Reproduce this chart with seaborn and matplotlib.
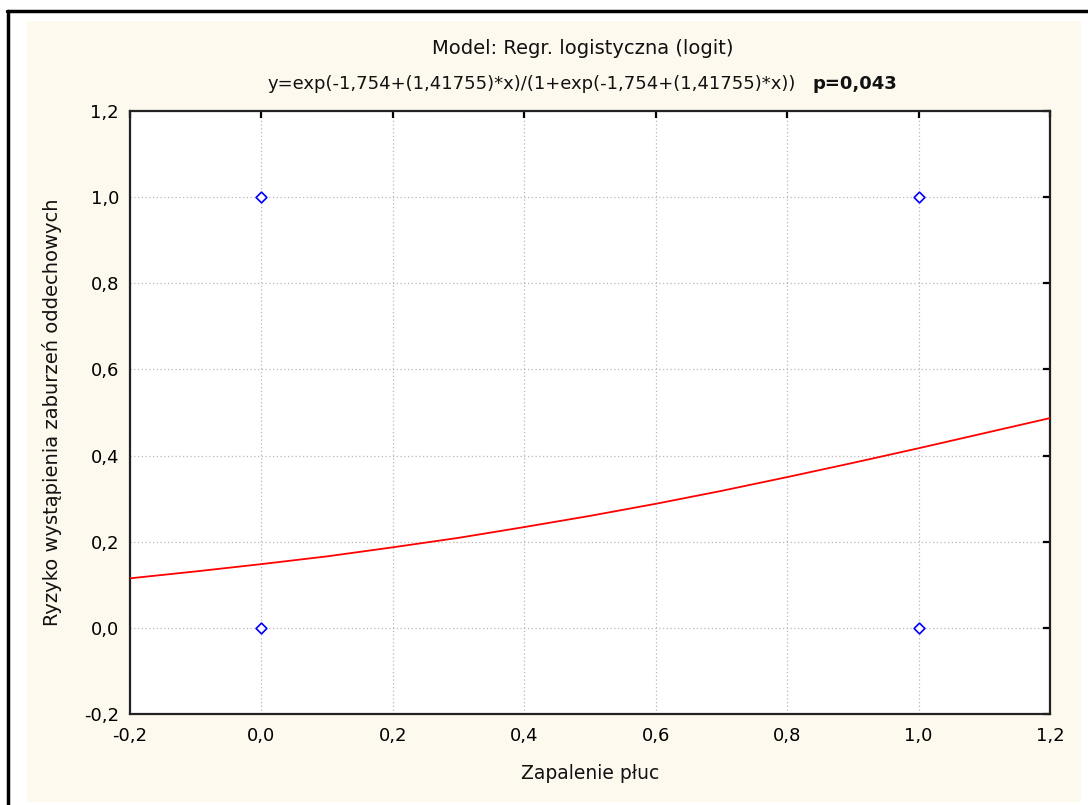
import matplotlib.pyplot as plt
import matplotlib.patches as mpatches
import matplotlib.lines as mlines
import seaborn as sns
import pandas as pd

# observed points (Zapalenie płuc vs. occurrence)
obs_x = [0.0, 0.0, 1.0, 1.0]
obs_y = [0.0, 1.0, 0.0, 1.0]

# fitted logit curve
curve_x = [-0.2, -0.1, 0.0, 0.1, 0.2, 0.3, 0.4, 0.5, 0.6, 0.7, 0.8, 0.9, 1.0, 1.1, 1.2]
curve_y = [0.115, 0.131, 0.148, 0.166, 0.187, 0.209, 0.234, 0.260, 0.288, 0.318,
           0.350, 0.383, 0.417, 0.452, 0.487]

ticks = [-0.2, 0.0, 0.2, 0.4, 0.6, 0.8, 1.0, 1.2]
tick_labels = ["-0,2", "0,0", "0,2", "0,4", "0,6", "0,8", "1,0", "1,2"]

title1 = "Model: Regr. logistyczna (logit)"
title2 = "y=exp(-1,754+(1,41755)*x)/(1+exp(-1,754+(1,41755)*x))"
title_p = "p=0,043"
xlabel = "Zapalenie płuc"
ylabel = "Ryzyko wystąpienia zaburzeń oddechowych"

sns.set_style("white")
plt.rcParams['font.family'] = ['DejaVu Sans']

W, H = 1088, 805
fig = plt.figure(figsize=(W / 100, H / 100), dpi=100, facecolor="white")

# cream panel and the black frame lines
fig.add_artist(mpatches.Rectangle((27 / W, 3 / H), 1054 / W, 781 / H,
                                  transform=fig.transFigure, facecolor="#fef9ee",
                                  edgecolor="none", zorder=0))
fig.add_artist(mlines.Line2D([7 / W, 1.0], [1 - 11 / H, 1 - 11 / H],
                             transform=fig.transFigure, color="black", lw=2.5))
fig.add_artist(mlines.Line2D([8 / W, 8 / W], [0.0, 1 - 11 / H],
                             transform=fig.transFigure, color="black", lw=2.5))

ax = fig.add_axes([130 / W, 1 - 714 / H, 920 / W, 603 / H])
ax.set_facecolor("white")

curve = pd.DataFrame({"x": curve_x, "y": curve_y})
points = pd.DataFrame({"x": obs_x, "y": obs_y})

sns.lineplot(data=curve, x="x", y="y", color="#ff0000", lw=1.3, ax=ax, zorder=3)
sns.scatterplot(data=points, x="x", y="y", marker="D", s=30, facecolors="white",
                edgecolor="#0000ff", linewidth=1.2, ax=ax, zorder=4)

ax.set_xlim(-0.2, 1.2)
ax.set_ylim(-0.2, 1.2)
ax.set_xticks(ticks)
ax.set_xticklabels(tick_labels)
ax.set_yticks(ticks)
ax.set_yticklabels(tick_labels)
ax.tick_params(direction="in", length=5, width=1.6, top=True, right=True,
               labelsize=13, colors="black")
ax.tick_params(axis="x", pad=9)
ax.tick_params(axis="y", pad=8)
ax.grid(True, color="#b8b8b8", linestyle=(0, (1, 2)), linewidth=0.9)

for side in ax.spines.values():
    side.set_color("#222222")
    side.set_linewidth(1.6)

ax.set_xlabel(xlabel, fontsize=13.5, labelpad=14, color="#111111")
ax.set_ylabel(ylabel, fontsize=14, labelpad=16, color="#111111")

fig.text(583 / W, 1 - 48 / H, title1, ha="center", va="center", fontsize=14,
         color="#111111")
fig.text(268 / W, 1 - 84 / H, title2, ha="left", va="center", fontsize=13,
         color="#111111")
fig.text(897 / W, 1 - 84 / H, title_p, ha="right", va="center", fontsize=13,
         fontweight="bold", color="#111111")

fig.savefig("out.png", dpi=100, facecolor="white")
